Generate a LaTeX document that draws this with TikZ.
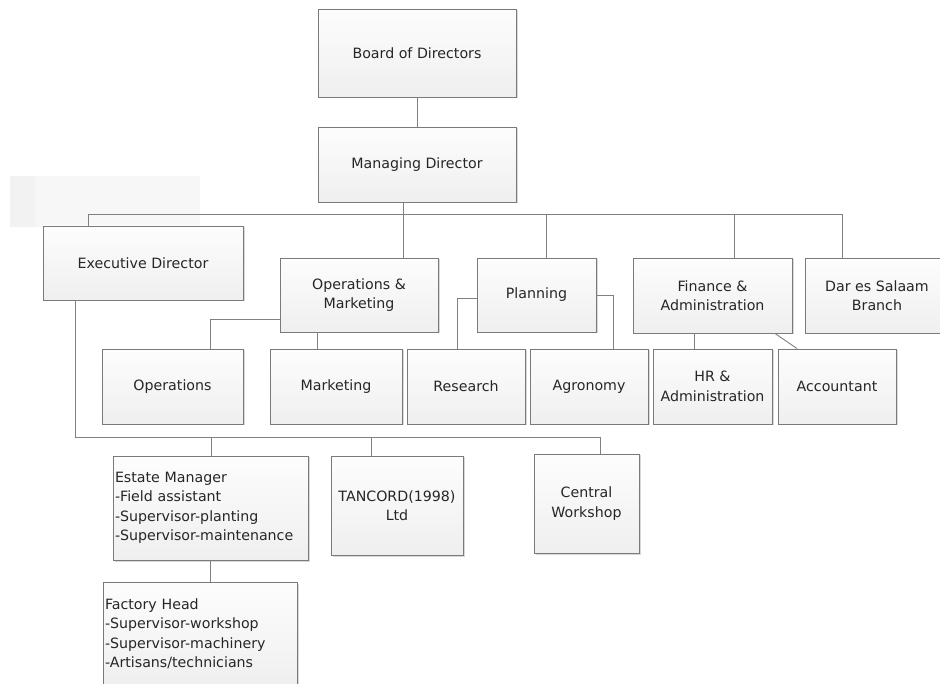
\documentclass[tikz,border=0pt]{standalone}
\usepackage{fontspec}
\setmainfont{DejaVu Sans}
\usetikzlibrary{shadows}
\definecolor{boxline}{HTML}{7A7A7A}
\definecolor{connline}{HTML}{808080}
\definecolor{boxtop}{HTML}{FDFDFD}
\definecolor{boxbot}{HTML}{EFEFEF}
\tikzset{
  orgbox/.style={draw=boxline, line width=0.9pt, top color=boxtop, bottom color=boxbot,
    drop shadow={shadow xshift=1.5pt, shadow yshift=-1.5pt, fill=black!25, opacity=0.6},
    font=\fontsize{14.2}{19.5}\selectfont, align=center, inner sep=2pt, text=black!85},
  listbox/.style={orgbox, align=left},
  conn/.style={draw=connline, line width=0.9pt},
}
\begin{document}
\begin{tikzpicture}[x=1pt,y=-1pt]
\useasboundingbox (0,0) rectangle (940,684);
\clip (0,0) rectangle (940,684);
% faint shaded block
\fill[fill=black!5] (10,176) rectangle (35,227);
\fill[fill=black!3] (35,176) rectangle (200,227);
% top
\node[orgbox, minimum width=198pt, minimum height=88pt] (board) at (417,53) {Board of Directors};
\node[orgbox, minimum width=198pt, minimum height=75pt] (md) at (417,164.5) {Managing Director};
% level 2
\node[orgbox, minimum width=200pt, minimum height=74pt] (exec) at (143,263) {Executive Director};
\node[orgbox, minimum width=158pt, minimum height=74pt] (opm) at (359,295) {Operations \&\\Marketing};
\node[orgbox, minimum width=119pt, minimum height=74pt] (plan) at (536.5,295) {Planning};
\node[orgbox, minimum width=159pt, minimum height=75pt] (fin) at (712.5,295.5) {Finance \&\\Administration};
\node[orgbox, minimum width=144pt, minimum height=75pt] (dar) at (877,295.5) {Dar es Salaam\\Branch};
% level 3
\node[orgbox, minimum width=141pt, minimum height=75pt] (ops) at (172.5,386.5) {Operations};
\node[orgbox, minimum width=132pt, minimum height=75pt] (mkt) at (336,386.5) {Marketing};
\node[orgbox, minimum width=118pt, minimum height=75pt] (res) at (466,386.5) {Research};
\node[orgbox, minimum width=118pt, minimum height=75pt] (agr) at (589,386.5) {Agronomy};
\node[orgbox, minimum width=119pt, minimum height=75pt] (hr) at (712.5,386.5) {HR \&\\Administration};
\node[orgbox, minimum width=118pt, minimum height=75pt] (acc) at (837,386.5) {Accountant};
% level 4
\node[listbox, minimum width=195pt, minimum height=104pt, text width=191pt] (est) at (210.5,508) {Estate Manager\\-Field assistant\\-Supervisor-planting\\-Supervisor-maintenance};
\node[orgbox, minimum width=132pt, minimum height=99pt] (tan) at (397,505.5) {TANCORD(1998)\\Ltd};
\node[orgbox, minimum width=105pt, minimum height=99pt] (cw) at (586.5,503.5) {Central\\Workshop};
\node[listbox, minimum width=194pt, minimum height=104pt, text width=190pt] (fac) at (200,634) {Factory Head\\-Supervisor-workshop\\-Supervisor-machinery\\-Artisans/technicians};
% connectors
\draw[conn] (board.south) -- (md.north);
\coordinate (bm) at (403,214);
\coordinate (bl) at (88,214);
\coordinate (bp) at (546,214);
\coordinate (bf) at (734,214);
\coordinate (br) at (842,214);
\draw[conn] (md.south -| bm) -- (bm);
\draw[conn] (bl) -- (br);
\draw[conn] (bl) -- (bl |- exec.north);
\draw[conn] (bm) -- (bm |- opm.north);
\draw[conn] (bp) -- (bp |- plan.north);
\draw[conn] (bf) -- (bf |- fin.north);
\draw[conn] (br) -- (br |- dar.north);
% opm
\draw[conn] ([yshift=-24pt]opm.west) -| ([xshift=37.5pt]ops.north);
\draw[conn] ([xshift=-42pt]opm.south) -- ([xshift=-42pt]opm.south |- mkt.north);
% planning
\draw[conn] ([yshift=-3pt]plan.west) -| ([xshift=-9pt]res.north);
\draw[conn] (plan.east) -| ([xshift=24pt]agr.north);
% finance
\draw[conn] ([xshift=-18.5pt]fin.south) -- ([xshift=-18.5pt]fin.south |- hr.north);
\draw[conn] ([xshift=62.5pt]fin.south) -- ([xshift=-40pt]acc.north);
% executive
\coordinate (el) at (75,437);
\coordinate (ee) at (211,437);
\coordinate (et) at (371,437);
\coordinate (ec) at (600,437);
\draw[conn] (exec.south -| el) -- (el) -- (ec);
\draw[conn] (ee) -- (ee |- est.north);
\draw[conn] (et) -- (et |- tan.north);
\draw[conn] (ec) -- (ec |- cw.north);
\draw[conn] (est.south) -- (est.south |- fac.north);
\end{tikzpicture}
\end{document}
